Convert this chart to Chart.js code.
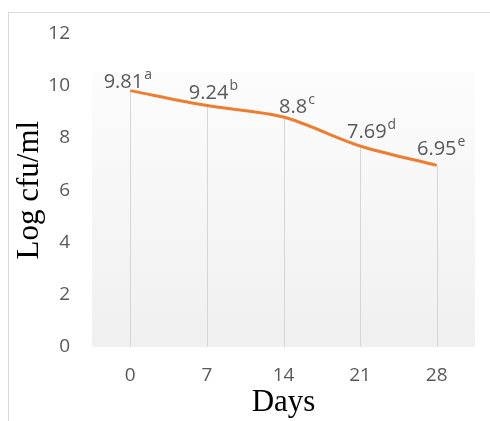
<!DOCTYPE html>
<html lang="en">
<head>
<meta charset="UTF-8">
<title>Log cfu/ml over days</title>
<script src="https://cdn.jsdelivr.net/npm/chart.js"></script>
<style>
  html, body { margin: 0; padding: 0; background: #fff; }
  #wrap { width: 490px; height: 421px; }
</style>
</head>
<body>
<div id="wrap"><canvas id="chart" width="490" height="421"></canvas></div>
<script>
  // data
  const days = ['0', '7', '14', '21', '28'];
  const counts = [9.81, 9.24, 8.8, 7.69, 6.95];
  const letters = ['a', 'b', 'c', 'd', 'e'];
  const yTicks = [0, 2, 4, 6, 8, 10, 12];

  // small nudges of the value labels (pixels), like the original
  const labelDx = [-3, 6, 13, 11, 4];
  const labelDy = [3, 7, 4, 8, 10];

  const grey = '#595959';
  const orange = '#ED7D31';

  // frame + plot fill
  const backdrop = {
    id: 'backdrop',
    beforeDraw(chart) {
      const ctx = chart.ctx;
      const a = chart.chartArea;
      ctx.save();
      ctx.strokeStyle = '#d9d9d9';
      ctx.lineWidth = 1;
      ctx.beginPath();
      ctx.moveTo(8.5, 421);
      ctx.lineTo(8.5, 12.5);
      ctx.lineTo(490, 12.5);
      ctx.stroke();
      const top = a.top + 39;
      const g = ctx.createLinearGradient(0, top, 0, a.bottom);
      g.addColorStop(0, '#fcfcfc');
      g.addColorStop(1, '#f0f0f0');
      ctx.fillStyle = g;
      ctx.fillRect(a.left, top, a.right - a.left, a.bottom - top);
      ctx.restore();
    }
  };

  // drop lines from each point down to the axis
  const dropLines = {
    id: 'dropLines',
    beforeDatasetsDraw(chart) {
      const ctx = chart.ctx;
      const meta = chart.getDatasetMeta(0);
      const bottom = chart.scales.y.getPixelForValue(0);
      ctx.save();
      ctx.strokeStyle = '#d6d6d6';
      ctx.lineWidth = 1;
      meta.data.forEach(p => {
        const x = Math.round(p.x) + 0.5;
        ctx.beginPath();
        ctx.moveTo(x, p.y);
        ctx.lineTo(x, bottom);
        ctx.stroke();
      });
      ctx.restore();
    }
  };

  // value labels with superscript letters
  const valueLabels = {
    id: 'valueLabels',
    afterDatasetsDraw(chart) {
      const ctx = chart.ctx;
      const meta = chart.getDatasetMeta(0);
      ctx.save();
      ctx.fillStyle = grey;
      ctx.textBaseline = 'alphabetic';
      ctx.textAlign = 'left';
      meta.data.forEach((p, i) => {
        const main = String(counts[i]);
        const sup = letters[i];
        ctx.font = '20px "Open Sans"';
        const w1 = ctx.measureText(main).width;
        ctx.font = '14px "Open Sans"';
        const w2 = ctx.measureText(sup).width;
        const x0 = p.x - (w1 + w2) / 2 + labelDx[i];
        const base = p.y - labelDy[i];
        ctx.font = '20px "Open Sans"';
        ctx.fillText(main, x0, base);
        ctx.font = '14px "Open Sans"';
        ctx.fillText(sup, x0 + w1 + 1, base - 9);
      });
      ctx.restore();
    }
  };

  new Chart(document.getElementById('chart'), {
    type: 'line',
    data: {
      labels: days,
      datasets: [{
        data: counts,
        borderColor: orange,
        borderWidth: 3,
        pointRadius: 0,
        tension: 0.3,
        fill: false
      }]
    },
    options: {
      responsive: false,
      animation: false,
      events: [],
      layout: { padding: { top: 29, right: 15, left: 0, bottom: 0 } },
      plugins: {
        legend: { display: false },
        tooltip: { enabled: false }
      },
      scales: {
        x: {
          offset: true,
          grid: { display: false, drawTicks: false },
          border: { display: false },
          ticks: { color: grey, font: { family: 'Open Sans', size: 19 }, padding: 17 },
          title: {
            display: true,
            text: 'Days',
            color: '#000',
            font: { family: 'Liberation Serif', size: 31 },
            padding: { top: 0, bottom: 0 }
          },
          afterFit(s) { s.height = 74; }
        },
        y: {
          min: 0,
          max: 12,
          afterBuildTicks(s) { s.ticks = yTicks.map(v => ({ value: v })); },
          grid: { display: false, drawTicks: false },
          border: { display: false },
          ticks: { color: grey, font: { family: 'Open Sans', size: 19 }, padding: 22 },
          title: {
            display: true,
            text: 'Log cfu/ml',
            color: '#000',
            font: { family: 'Liberation Serif', size: 31 },
            padding: { top: 11, bottom: 0 }
          },
          afterFit(s) { s.width = 92; }
        }
      }
    },
    plugins: [backdrop, dropLines, valueLabels]
  });
</script>
</body>
</html>
